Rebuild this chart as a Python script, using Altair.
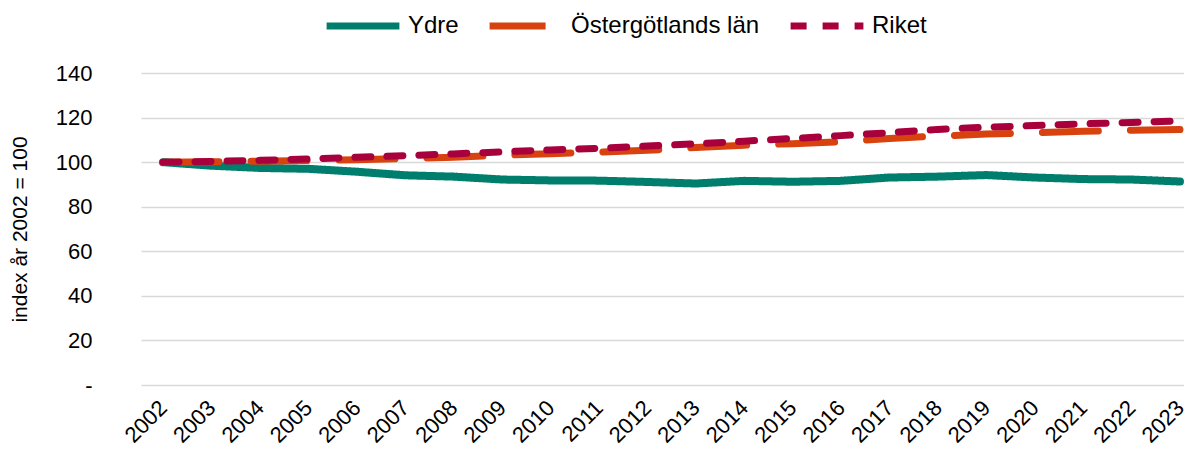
import altair as alt
import pandas as pd

years = list(range(2002, 2024))
ydre = [100, 98.4, 97.4, 97.0, 95.7, 94.1, 93.5, 92.2, 91.8, 91.7, 91.1, 90.4,
        91.6, 91.2, 91.6, 93.1, 93.5, 94.2, 93.1, 92.4, 92.2, 91.3]
ostergotland = [100, 100.2, 100.4, 100.7, 101.1, 101.6, 102.2, 103.1, 103.8, 104.5, 105.3, 106.6,
                107.6, 108.3, 109.1, 110.6, 111.7, 112.6, 113.2, 113.9, 114.3, 114.6]
riket = [100, 100.3, 100.8, 101.4, 102.2, 102.9, 103.7, 104.6, 105.5, 106.2, 107.2, 108.2,
         109.4, 110.6, 111.9, 113.2, 114.7, 115.7, 116.4, 117.2, 117.8, 118.5]

series = ["Ydre", "Östergötlands län", "Riket"]
colors = ["#007E6D", "#D8420F", "#A8003C"]
dashes = [[1, 0], [56, 32], [16, 16]]
y_ticks = [0, 20, 40, 60, 80, 100, 120, 140]

rows = []
for name, vals in zip(series, [ydre, ostergotland, riket]):
    for yr, v in zip(years, vals):
        rows.append({"year": yr, "value": v, "serie": name})
df = pd.DataFrame(rows)

FONT = "Liberation Sans"

legend = alt.Legend(
    title=None, orient="none", legendX=182, legendY=-87, direction="horizontal",
    symbolType="stroke", symbolSize=5300, symbolStrokeWidth=7,
    labelFontSize=24, labelFont=FONT, labelColor="#000000", labelOffset=5,
    columnPadding=16, labelLimit=400,
)

color = alt.Color("serie:N", scale=alt.Scale(domain=series, range=colors), legend=legend)
dash = alt.StrokeDash("serie:N", scale=alt.Scale(domain=series, range=dashes), legend=legend)

x = alt.X("year:Q",
          scale=alt.Scale(domain=[2001.546, 2023.083], nice=False, zero=False),
          axis=alt.Axis(values=years, format="d", labelAngle=-45, labelAlign="right",
                        labelBaseline="middle", labelPadding=19, ticks=False, domain=False,
                        grid=False, title=None, labelFontSize=22, labelFont=FONT,
                        labelColor="#000000", labelOverlap=False))
y = alt.Y("value:Q",
          scale=alt.Scale(domain=[0, 140], nice=False),
          axis=alt.Axis(values=y_ticks, labelExpr="datum.value == 0 ? '-' : datum.label",
                        ticks=False, domain=False, grid=True, gridColor="#D9D9D9",
                        gridWidth=1.5, labelPadding=49, labelFontSize=22, labelFont=FONT,
                        labelColor="#000000", title="index år 2002 = 100",
                        titleFontSize=21, titleFont=FONT, titleFontWeight="normal",
                        titleColor="#000000", titleAngle=-90, titleX=-121, titleY=156,
                        titleAlign="center", titleBaseline="middle"))

layers = []
widths = [8, 7, 7]
for name, w in zip(series, widths):
    layers.append(
        alt.Chart(df[df.serie == name]).mark_line(strokeWidth=w, strokeCap="round",
                                                  strokeJoin="round")
        .encode(x=x, y=y, color=color, strokeDash=dash)
    )

chart = alt.layer(*layers).properties(
    width=1043, height=312,
    autosize=alt.AutoSizeParams(type="none"),
    padding={"left": 133, "top": 65, "right": 0, "bottom": 60},
).configure(background="white").configure_view(stroke=None)

chart.save("out.html", embed_options={"renderer": "svg", "actions": False})
